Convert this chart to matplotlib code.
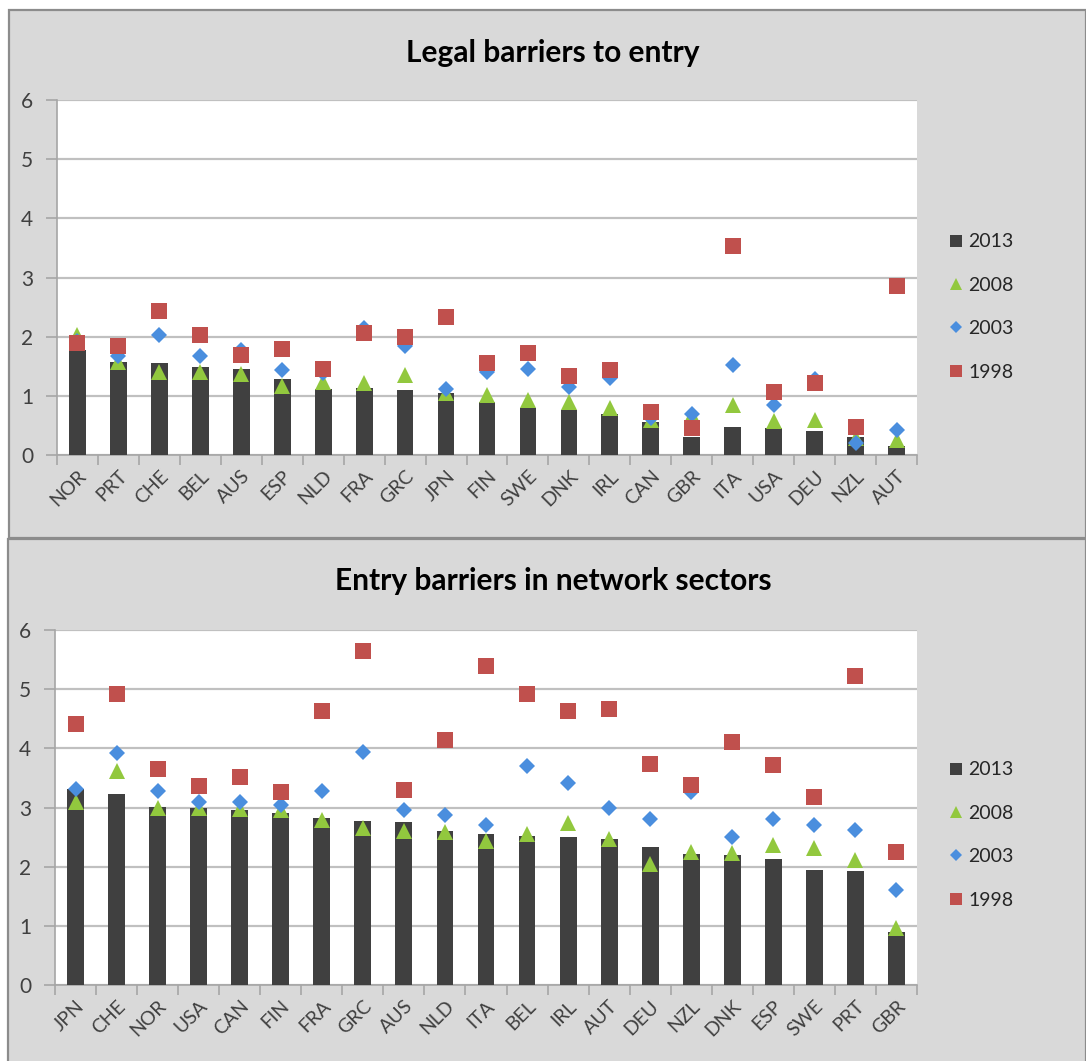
import matplotlib
matplotlib.use("Agg")
import matplotlib.pyplot as plt
from matplotlib.patches import Rectangle
from matplotlib.lines import Line2D

# ---- Panel 1: Legal barriers to entry ----
legal_countries = ["NOR", "PRT", "CHE", "BEL", "AUS", "ESP", "NLD", "FRA", "GRC", "JPN", "FIN",
                   "SWE", "DNK", "IRL", "CAN", "GBR", "ITA", "USA", "DEU", "NZL", "AUT"]
legal_2013 = [1.77, 1.58, 1.56, 1.48, 1.46, 1.29, 1.12, 1.13, 1.10, 1.05, 0.90,
              0.79, 0.76, 0.70, 0.55, 0.31, 0.47, 0.45, 0.40, 0.31, 0.15]
legal_2008 = [2.02, 1.58, 1.40, 1.40, 1.37, 1.16, 1.23, 1.21, 1.35, 1.04, 1.02,
              0.93, 0.89, 0.79, 0.59, 0.68, 0.85, 0.58, 0.60, 0.28, 0.25]
legal_2003 = [1.93, 1.68, 2.02, 1.68, 1.78, 1.43, 1.38, 2.15, 1.85, 1.11, 1.41,
              1.45, 1.15, 1.30, 0.62, 0.70, 1.52, 0.85, 1.28, 0.20, 0.42]
legal_1998 = [1.90, 1.85, 2.44, 2.02, 1.69, 1.79, 1.46, 2.06, 1.99, 2.33, 1.55,
              1.73, 1.34, 1.44, 0.73, 0.45, 3.53, 1.06, 1.21, 0.47, 2.86]

# ---- Panel 2: Entry barriers in network sectors ----
network_countries = ["JPN", "CHE", "NOR", "USA", "CAN", "FIN", "FRA", "GRC", "AUS", "NLD", "ITA",
                     "BEL", "IRL", "AUT", "DEU", "NZL", "DNK", "ESP", "SWE", "PRT", "GBR"]
network_2013 = [3.32, 3.22, 3.01, 3.00, 2.96, 2.90, 2.82, 2.78, 2.75, 2.61, 2.55,
                2.51, 2.50, 2.46, 2.33, 2.21, 2.20, 2.13, 1.95, 1.92, 0.90]
network_2008 = [3.10, 3.61, 3.00, 3.00, 2.98, 2.95, 2.79, 2.65, 2.61, 2.59, 2.44,
                2.56, 2.74, 2.46, 2.05, 2.24, 2.23, 2.37, 2.31, 2.11, 0.96]
network_2003 = [3.31, 3.92, 3.28, 3.09, 3.09, 3.04, 3.28, 3.94, 2.95, 2.87, 2.70,
                3.70, 3.42, 3.00, 2.80, 3.27, 2.50, 2.80, 2.70, 2.62, 1.61]
network_1998 = [4.41, 4.91, 3.65, 3.36, 3.52, 3.27, 4.63, 5.65, 3.30, 4.14, 5.39,
                4.91, 4.63, 4.66, 3.73, 3.38, 4.11, 3.71, 3.18, 5.23, 2.24]

years = ["2013", "2008", "2003", "1998"]

BAR = "#404040"
GREEN = "#92c83e"
BLUE = "#4a8ede"
RED = "#c0504d"
PANEL_BG = "#d9d9d9"
GRID = "#c0c0c0"
TEXT = "#404040"
FONT = "Lato"

W, H = 1086, 1061
fig = plt.figure(figsize=(W / 100, H / 100), dpi=100)
fig.patch.set_facecolor("white")

# chart-area frames
fig.patches.append(Rectangle((9 / W, 1 - 538 / H), (W - 9) / W, 528 / H, transform=fig.transFigure,
                             facecolor=PANEL_BG, edgecolor="#8c8c8c", linewidth=1.6, zorder=-2))
fig.patches.append(Rectangle((8 / W, -0.01), (W - 8) / W, (H - 539) / H + 0.01, transform=fig.transFigure,
                             facecolor=PANEL_BG, edgecolor="#8c8c8c", linewidth=1.6, zorder=-2))


def draw_panel(rect, title, title_base, cats, v13, v08, v03, v98, legend_y):
    x0, y0, x1, y1 = rect
    ax = fig.add_axes([x0 / W, 1 - y1 / H, (x1 - x0) / W, (y1 - y0) / H])
    ax.set_facecolor("white")
    xs = list(range(len(cats)))
    ax.bar(xs, v13, width=0.41, color=BAR, zorder=3, label=years[0])
    ms = 11.5
    ax.plot(xs, v08, linestyle="none", marker="^", markersize=ms, color=GREEN,
            markeredgewidth=0, zorder=4, label=years[1])
    ax.plot(xs, v03, linestyle="none", marker="D", markersize=ms * 0.75, color=BLUE,
            markeredgewidth=0, zorder=5, label=years[2])
    ax.plot(xs, v98, linestyle="none", marker="s", markersize=ms, color=RED,
            markeredgewidth=0, zorder=6, label=years[3])

    ax.set_xlim(-0.5, len(cats) - 0.5)
    ax.set_ylim(0, 6)
    ax.set_yticks(range(0, 7))
    ax.yaxis.grid(True, color=GRID, linewidth=1.6, zorder=0)
    ax.set_axisbelow(True)

    ax.set_xticks(xs)
    ax.set_xticklabels(cats, rotation=45, ha="right", va="top", rotation_mode="anchor",
                       fontsize=14, color=TEXT, fontfamily=FONT)
    ax.set_xticks([i - 0.5 for i in range(len(cats) + 1)], minor=True)
    ax.tick_params(axis="x", which="major", length=0, pad=9)
    ax.tick_params(axis="x", which="minor", length=7, width=1.2, color="#a6a6a6")
    ax.tick_params(axis="y", length=8, width=1.2, color="#a6a6a6", pad=9,
                   labelsize=15, labelcolor=TEXT)
    for lab in ax.get_yticklabels():
        lab.set_fontfamily(FONT)

    for side in ("top", "right"):
        ax.spines[side].set_visible(False)
    for side in ("left", "bottom"):
        ax.spines[side].set_color("#a6a6a6")
        ax.spines[side].set_linewidth(1.2)

    fig.text(553 / W, 1 - title_base / H, title, ha="center", va="baseline",
             fontsize=21.5, fontweight="bold", color="black", fontfamily=FONT)

    handles = [Line2D([], [], linestyle="none", marker="s", markersize=8, color=BAR, markeredgewidth=0),
               Line2D([], [], linestyle="none", marker="^", markersize=9, color=GREEN, markeredgewidth=0),
               Line2D([], [], linestyle="none", marker="D", markersize=6.5, color=BLUE, markeredgewidth=0),
               Line2D([], [], linestyle="none", marker="s", markersize=9, color=RED, markeredgewidth=0)]
    leg = fig.legend(handles, years, loc="center left", bbox_to_anchor=(933 / W, 1 - legend_y / H),
                     frameon=False, handlelength=0.6, handletextpad=0.3, labelspacing=1.36,
                     prop={"family": FONT, "size": 14})
    for t in leg.get_texts():
        t.set_color("#262626")
    return ax


draw_panel((57, 100, 917, 455), "Legal barriers to entry", 62,
           legal_countries, legal_2013, legal_2008, legal_2003, legal_1998, 307)
draw_panel((55, 630, 917, 985), "Entry barriers in network sectors", 590,
           network_countries, network_2013, network_2008, network_2003, network_1998, 835)

fig.savefig("out.png", dpi=100, facecolor=fig.get_facecolor())
